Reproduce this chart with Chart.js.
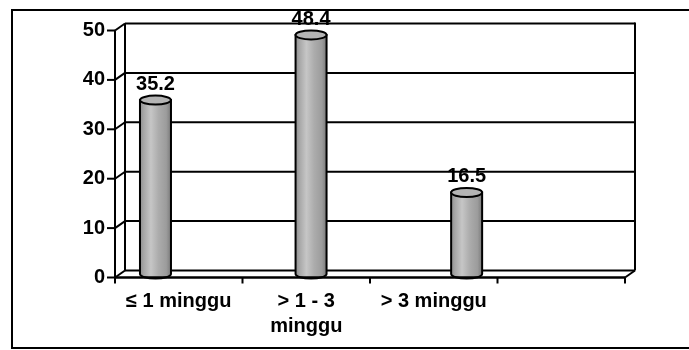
<!DOCTYPE html>
<html>
<head>
<meta charset="utf-8">
<script src="https://cdn.jsdelivr.net/npm/chart.js@4/dist/chart.umd.min.js"></script>
<style>
  html, body { margin: 0; padding: 0; background: #fff; }
  #wrap { width: 689px; height: 350px; }
</style>
</head>
<body>
<div id="wrap"><canvas id="c" width="689" height="350"></canvas></div>
<script>
// Duration groups (the last slot of the axis is left empty)
const categories = ['≤ 1 minggu', ['> 1 - 3', 'minggu'], '> 3 minggu', ''];
// Percentage per group
const percentages = [35.2, 48.4, 16.5];
// Value axis
const yMin = 0;
const yMax = 50;
const yStep = 10;

const FONT = '"Liberation Sans", Arial, sans-serif';
const DX = 5;    // half depth of the 3-D box, horizontal
const DY = 3.5;  // half depth of the 3-D box, vertical

function line(ctx, x1, y1, x2, y2) {
  ctx.beginPath();
  ctx.moveTo(x1, y1);
  ctx.lineTo(x2, y2);
  ctx.stroke();
}

const box3d = {
  id: 'box3d',
  beforeDatasetsDraw(chart) {
    const { ctx, chartArea: a, scales } = chart;
    const ys = scales.y;
    ctx.save();
    ctx.strokeStyle = '#000';
    ctx.lineWidth = 2;
    // back wall gridlines, side diagonals and front tick marks
    for (let v = yMin; v <= yMax; v += yStep) {
      const y = ys.getPixelForValue(v);
      line(ctx, a.left + DX, y - DY, a.right + DX, y - DY);
      line(ctx, a.left - DX, y + DY, a.left + DX, y - DY);
      line(ctx, a.left - DX - 8, y + DY, a.left - DX, y + DY);
    }
    // back wall edges
    line(ctx, a.left + DX, a.top - DY, a.left + DX, a.bottom - DY);
    line(ctx, a.right + DX, a.top - DY - 1, a.right + DX, a.bottom - DY);
    // front value axis
    line(ctx, a.left - DX, a.top + DY, a.left - DX, a.bottom + DY);
    ctx.restore();
  },
  afterDatasetsDraw(chart) {
    const { ctx, chartArea: a, scales } = chart;
    const meta = chart.getDatasetMeta(0);
    ctx.save();
    // cylinders
    meta.data.forEach((bar, i) => {
      const p = bar.getProps(['x', 'y', 'base', 'width'], true);
      const rx = p.width / 2, ry = 4.5;
      const l = p.x - rx, r = p.x + rx;
      const g = ctx.createLinearGradient(l, 0, r, 0);
      g.addColorStop(0, '#8e8e8e');
      g.addColorStop(0.12, '#a6a6a6');
      g.addColorStop(0.35, '#c6c6c6');
      g.addColorStop(0.6, '#acacac');
      g.addColorStop(0.85, '#9c9c9c');
      g.addColorStop(1, '#7a7a7a');
      ctx.beginPath();
      ctx.moveTo(l, p.y);
      ctx.lineTo(l, p.base);
      ctx.ellipse(p.x, p.base, rx, ry, 0, Math.PI, 0, true);
      ctx.lineTo(r, p.y);
      ctx.closePath();
      ctx.fillStyle = g;
      ctx.fill();
      ctx.lineWidth = 2;
      ctx.strokeStyle = '#000';
      ctx.stroke();
      ctx.beginPath();
      ctx.ellipse(p.x, p.y, rx, ry, 0, 0, Math.PI * 2);
      ctx.fillStyle = '#b4b4b4';
      ctx.fill();
      ctx.stroke();
      // value label
      ctx.fillStyle = '#000';
      ctx.font = 'bold 20px ' + FONT;
      ctx.textAlign = 'center';
      ctx.textBaseline = 'alphabetic';
      ctx.fillText(String(percentages[i]), p.x, p.y - 10);
    });
    // front edge of the floor and category tick marks
    ctx.strokeStyle = '#000';
    ctx.lineWidth = 2.5;
    line(ctx, a.left - DX, a.bottom + DY, a.right - DX, a.bottom + DY);
    ctx.lineWidth = 2;
    line(ctx, a.right - DX, a.bottom + DY, a.right + DX, a.bottom - DY);
    const xs = scales.x;
    for (let i = 0; i <= categories.length; i++) {
      const x = xs.getPixelForValue(i - 0.5) - DX;
      line(ctx, x, a.bottom + DY, x, a.bottom + DY + 6);
    }
    ctx.restore();
  },
  afterDraw(chart) {
    const { ctx } = chart;
    ctx.save();
    ctx.strokeStyle = '#000';
    ctx.lineWidth = 2;
    ctx.strokeRect(12, 10, 700, 338);
    ctx.restore();
  }
};

new Chart(document.getElementById('c'), {
  type: 'bar',
  data: {
    labels: categories,
    datasets: [{
      data: percentages.map((v, i) => ({ x: i, y: v })),
      xAxisID: 'xb',
      backgroundColor: 'rgba(0,0,0,0)',
      borderWidth: 0,
      barThickness: 31
    }]
  },
  options: {
    responsive: false,
    animation: false,
    events: [],
    layout: { padding: { left: 0, right: 59, top: 24.5, bottom: 0 } },
    plugins: { legend: { display: false }, tooltip: { enabled: false } },
    scales: {
      x: {
        type: 'category',
        position: 'bottom',
        offset: true,
        grid: { display: false, drawTicks: false },
        border: { display: false },
        ticks: {
          autoSkip: false,
          maxRotation: 0,
          minRotation: 0,
          labelOffset: -DX,
          padding: 15,
          color: '#000',
          font: { family: FONT, size: 20, weight: 'bold', lineHeight: 1.25 }
        },
        afterFit(s) { s.height = 76; }
      },
      xb: {
        type: 'linear',
        display: false,
        offset: false,
        bounds: 'data',
        min: -0.228,
        max: 3.05
      },
      y: {
        min: yMin,
        max: yMax,
        grid: { display: false, drawTicks: false },
        border: { display: false },
        ticks: {
          stepSize: yStep,
          labelOffset: DY,
          padding: 15,
          color: '#000',
          font: { family: FONT, size: 20, weight: 'bold' }
        },
        afterFit(s) { s.width = 120; }
      }
    }
  },
  plugins: [box3d]
});
</script>
</body>
</html>
